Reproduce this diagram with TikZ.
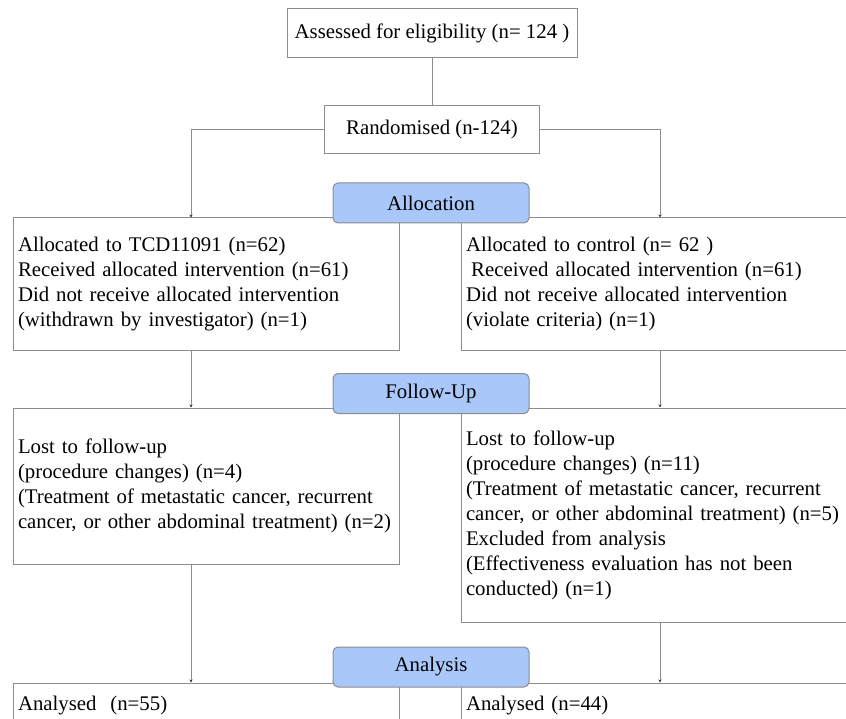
\documentclass[tikz,border=0pt]{standalone}
\usepackage{fontspec}
\setmainfont{Liberation Serif}
\usetikzlibrary{arrows.meta,positioning}
\definecolor{stageblue}{HTML}{A9C7F9}
\definecolor{boxgray}{HTML}{8C8C8C}
\tikzset{
    flow box/.style = {
        draw = boxgray,
        line width = 1pt,
        rectangle,
        inner sep = 5pt,
        align = left,
        font = \fontsize{20.8}{25}\selectfont,
        },
    wide box/.style = {
        flow box,
        minimum width = 386pt,
        text width = 376pt,
        },
    stage label/.style = {
        draw = boxgray,
        line width = 1pt,
        fill = stageblue,
        rounded corners = 5pt,
        minimum width = 196pt,
        minimum height = 40pt,
        font = \fontsize{20.8}{25}\selectfont,
        },
    flow line/.style = {
        draw = boxgray,
        line width = 1pt,
        },
    flow arrow/.style = {
        flow line,
        -{Stealth[length=3pt,width=3pt,black!80]},
        },
}
\begin{document}
\begin{tikzpicture}[x=1pt,y=-1pt]
    \useasboundingbox (0,0) rectangle (846,719);

    \coordinate (colA) at (191,0);
    \coordinate (colB) at (660,0);

    \node[flow box, minimum width=290pt, minimum height=49pt] (elig) at (432,33.5) {Assessed for eligibility (n= 124 )};
    \node[flow box, minimum width=215pt, minimum height=48pt] (rand) at (432,130) {Randomised (n-124)};

    % allocation
    \node[wide box, minimum height=132pt] (allocA) at (206,284) {Allocated to TCD11091 (n=62)\\
        Received allocated intervention (n=61)\\
        Did not receive allocated intervention\\
        (withdrawn by investigator) (n=1)};
    \node[wide box, minimum height=132pt] (allocB) at (654,284) {Allocated to control (n= 62 )\\
        \hspace{0.25em}Received allocated intervention (n=61)\\
        Did not receive allocated intervention\\
        (violate criteria) (n=1)};

    % follow-up
    \node[wide box, minimum height=156pt] (followA) at (206,486) {Lost to follow-up\\
        (procedure changes) (n=4)\\
        (Treatment of metastatic cancer, recurrent\\
        cancer, or other abdominal treatment) (n=2)};
    \node[wide box, minimum height=214pt] (followB) at (654,515) {Lost to follow-up\\
        (procedure changes) (n=11)\\
        (Treatment of metastatic cancer, recurrent\\
        cancer, or other abdominal treatment) (n=5)\\
        Excluded from analysis\\
        (Effectiveness evaluation has not been\\
        conducted) (n=1)};

    % analysis
    \node[wide box, minimum height=46pt] (analysA) at (206,706) {Analysed~~(n=55)};
    \node[wide box, minimum height=46pt] (analysB) at (654,706) {Analysed (n=44)};

    \path[flow line] (elig) -- (rand);
    \path[flow arrow] (rand.west) -| (colA |- allocA.north);
    \path[flow arrow] (rand.east) -| (colB |- allocB.north);
    \path[flow arrow] (colA |- allocA.south) -- (colA |- followA.north);
    \path[flow arrow] (colB |- allocB.south) -- (colB |- followB.north);
    \path[flow arrow] (colA |- followA.south) -- (colA |- analysA.north);
    \path[flow arrow] (colB |- followB.south) -- (colB |- analysB.north);

    \node[stage label] (allocation) at (431,203) {Allocation};
    \node[stage label] (followup) at (431,393.5) {Follow-Up};
    \node[stage label] (analysis) at (431,667) {Analysis};
\end{tikzpicture}
\end{document}
